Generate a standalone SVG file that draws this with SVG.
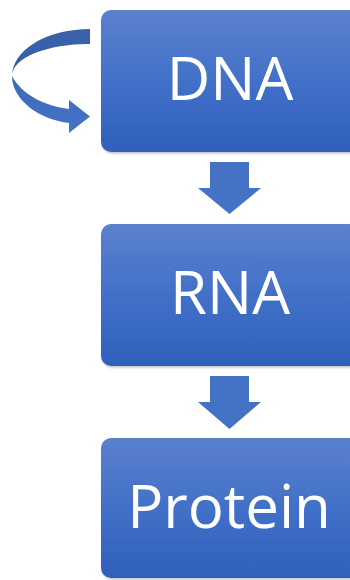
<svg xmlns="http://www.w3.org/2000/svg" width="350" height="580" viewBox="0 0 350 580">
  <defs>
    <linearGradient id="boxFill" x1="0" y1="0" x2="0" y2="1">
      <stop offset="0" stop-color="#5b81cd"/>
      <stop offset="0.5" stop-color="#4270c8"/>
      <stop offset="1" stop-color="#2f60bc"/>
    </linearGradient>
    <linearGradient id="backBand" x1="0" y1="0" x2="1" y2="0">
      <stop offset="0" stop-color="#3560aa"/>
      <stop offset="1" stop-color="#3a62a8"/>
    </linearGradient>
    <linearGradient id="frontBand" x1="0" y1="0" x2="0" y2="1">
      <stop offset="0" stop-color="#3d68b8"/>
      <stop offset="1" stop-color="#4674c8"/>
    </linearGradient>
    <filter id="shade" x="-5%" y="-5%" width="110%" height="115%">
      <feDropShadow dx="1" dy="1.5" stdDeviation="1" flood-color="#000" flood-opacity="0.25"/>
    </filter>
  </defs>
  <style>
    .box { fill: url(#boxFill); filter: url(#shade); }
    .label { fill: #ffffff; font-family: "Open Sans", "Noto Sans", sans-serif; font-size: 60px; text-anchor: middle; }
    .step { fill: #4472c4; }
  </style>

  <!-- connectors -->
  <g id="connectors">
    <!-- self loop on DNA: curved arrow, back side then front side -->
    <g id="loop">
      <path d="M90,29 A78,47 0 0 0 12,76 A76,32 0 0 1 90,44 Z" fill="url(#backBand)"/>
      <path d="M12,76 C12,100 40,120 69,123 L69,133 L90,116.5 L69,100 L69,109 C45,106 22,95 12,76 Z" fill="url(#frontBand)"/>
    </g>
    <!-- DNA to RNA -->
    <polygon class="step" points="210,162 249,162 249,188 261,188 229.5,214 198,188 210,188"/>
    <!-- RNA to Protein -->
    <polygon class="step" points="210,376 249,376 249,402 261,402 229.5,429 198,402 210,402"/>
  </g>

  <g id="dna">
    <rect class="box" x="101" y="10" width="260" height="142" rx="10"/>
    <text class="label" x="230" y="100">DNA</text>
  </g>

  <g id="rna">
    <rect class="box" x="101" y="224" width="260" height="142" rx="10"/>
    <text class="label" x="230" y="314">RNA</text>
  </g>

  <g id="protein">
    <rect class="box" x="101" y="438" width="260" height="140" rx="10"/>
    <text class="label" x="229" y="528">Protein</text>
  </g>
</svg>
